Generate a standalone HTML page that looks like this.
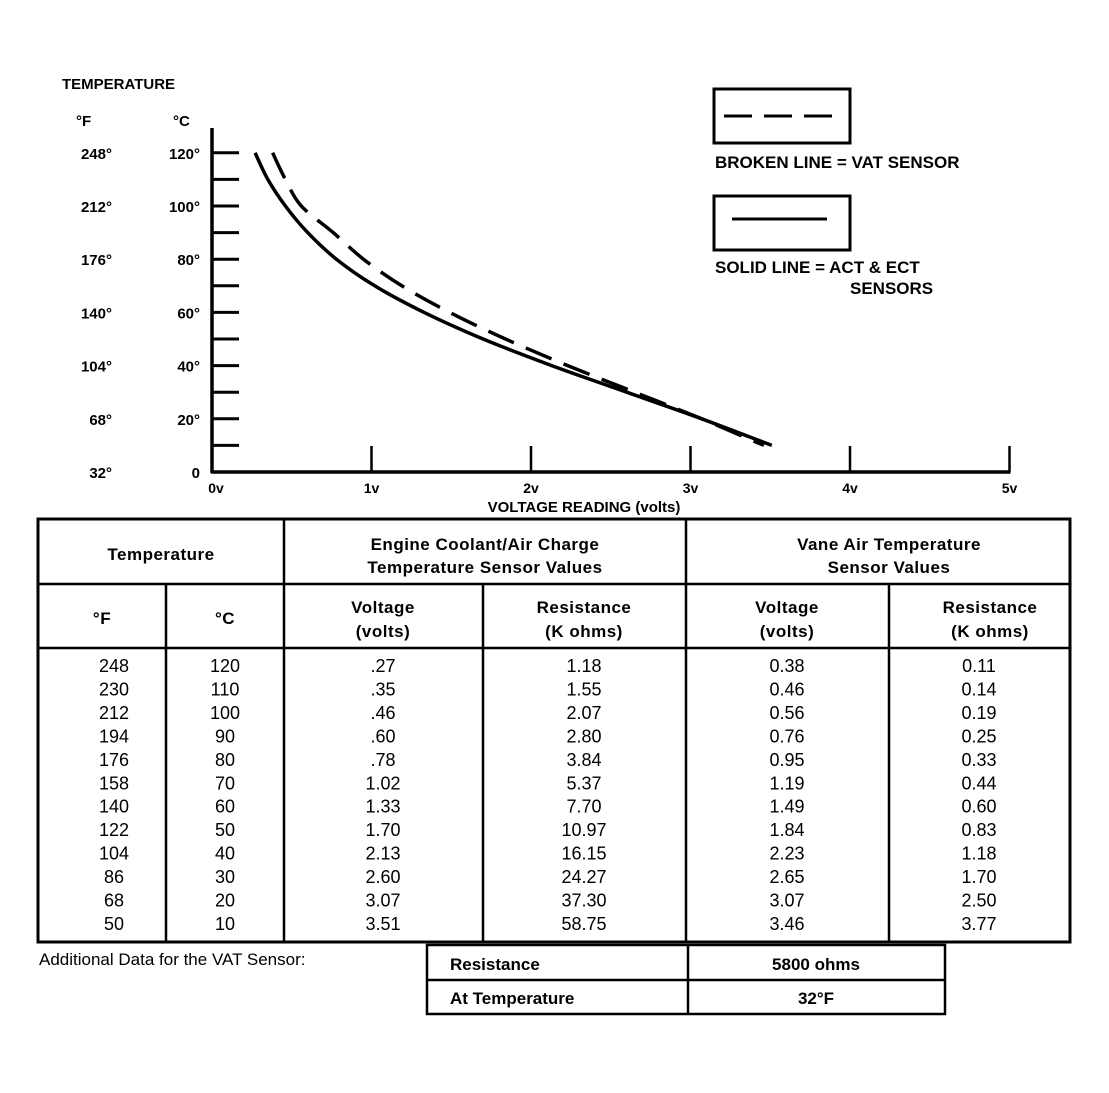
<!DOCTYPE html>
<html><head><meta charset="utf-8"><style>
body{margin:0;background:#fff;}
svg{display:block;font-family:"Liberation Sans",sans-serif;}
.b{font-weight:bold}
</style></head><body>
<svg id="s" width="1109" height="1093" viewBox="0 0 1109 1093">
<g id="chart"></g>
<g id="legend">
<rect x="714" y="89" width="136" height="54" fill="none" stroke="#000" stroke-width="3"/>
<line x1="724" y1="116" x2="840" y2="116" stroke="#000" stroke-width="3" stroke-dasharray="28,12"/>
<text x="715" y="168" font-size="17" class="b">BROKEN LINE  =  VAT SENSOR</text>
<rect x="714" y="196" width="136" height="54" fill="none" stroke="#000" stroke-width="3"/>
<line x1="732" y1="219" x2="827" y2="219" stroke="#000" stroke-width="3"/>
<text x="715" y="273" font-size="17" class="b">SOLID LINE  =  ACT &amp; ECT</text>
<text x="850" y="294" font-size="17" class="b">SENSORS</text>
</g>
<g id="table"></g>
<g>
<text x="39" y="965" font-size="17">Additional Data for the VAT Sensor:</text>
<rect x="427" y="945" width="518" height="69" fill="none" stroke="#000" stroke-width="2.5"/>
<line x1="427" y1="980" x2="945" y2="980" stroke="#000" stroke-width="2.5"/>
<line x1="688" y1="945" x2="688" y2="1014" stroke="#000" stroke-width="2.5"/>
<text x="450" y="970" font-size="17" class="b">Resistance</text>
<text x="816" y="970" font-size="17" class="b" text-anchor="middle">5800 ohms</text>
<text x="450" y="1004" font-size="17" class="b">At Temperature</text>
<text x="816" y="1004" font-size="17" class="b" text-anchor="middle">32°F</text>
</g>
</svg>
<script>
const tempF=[248,230,212,194,176,158,140,122,104,86,68,50];
const tempC=[120,110,100,90,80,70,60,50,40,30,20,10];
const ectVolts=[0.27,0.35,0.46,0.60,0.78,1.02,1.33,1.70,2.13,2.60,3.07,3.51];
const ectVoltText=[".27",".35",".46",".60",".78","1.02","1.33","1.70","2.13","2.60","3.07","3.51"];
const ectRes=["1.18","1.55","2.07","2.80","3.84","5.37","7.70","10.97","16.15","24.27","37.30","58.75"];
const vatVolts=[0.38,0.46,0.56,0.76,0.95,1.19,1.49,1.84,2.23,2.65,3.07,3.46];
const vatRes=["0.11","0.14","0.19","0.25","0.33","0.44","0.60","0.83","1.18","1.70","2.50","3.77"];
const yTicksF=["248°","212°","176°","140°","104°","68°","32°"];
const yTicksC=["120°","100°","80°","60°","40°","20°","0"];
const xTicks=["0v","1v","2v","3v","4v","5v"];
const NS="http://www.w3.org/2000/svg";
function X(v){return 212+v*159.5;}
function Y(c){return 472-c*2.66;}
function mk(p,tag,a,txt){const e=document.createElementNS(NS,tag);for(const k in a)e.setAttribute(k,a[k]);if(txt!==undefined)e.textContent=txt;p.appendChild(e);return e;}
const ch=document.getElementById('chart');
let t;
t=mk(ch,'text',{x:62,y:89,'font-size':15,'font-weight':'bold'},'TEMPERATURE');


t=mk(ch,'text',{x:76,y:126,'font-size':15,'font-weight':'bold'},'°F');


t=mk(ch,'text',{x:173,y:126,'font-size':15,'font-weight':'bold'},'°C');


let a=mk(ch,'line',{x1:X(0),y1:128,x2:X(0),y2:Y(0)+1,stroke:'#000','stroke-width':3.5});


a=mk(ch,'line',{x1:X(0)-1,y1:Y(0),x2:X(5)+1,y2:Y(0),stroke:'#000','stroke-width':3.5});


for(let c=10;c<=120;c+=10){const l=mk(ch,'line',{x1:X(0),y1:Y(c),x2:X(0)+27,y2:Y(c),stroke:'#000','stroke-width':3});

}
yTicksC.forEach((s,i)=>{const c=120-i*20;
const e=mk(ch,'text',{x:200,y:Y(c)+6,'font-size':15,'font-weight':'bold','text-anchor':'end'},s);


const f=mk(ch,'text',{x:112,y:Y(c)+6,'font-size':15,'font-weight':'bold','text-anchor':'end'},yTicksF[i]);

});
xTicks.forEach((s,i)=>{if(i>0){const l=mk(ch,'line',{x1:X(i),y1:Y(0)-26,x2:X(i),y2:Y(0),stroke:'#000','stroke-width':2.5});

}
const e=mk(ch,'text',{x:X(i)+(i==0?4:0),y:Y(0)+21,'font-size':14,'font-weight':'bold','text-anchor':'middle'},s);

});
t=mk(ch,'text',{x:584,y:512,'font-size':15,'font-weight':'bold','text-anchor':'middle'},'VOLTAGE READING (volts)');


function pathOf(vs){
  const P=vs.map((v,i)=>[X(v),Y(tempC[i])]);
  let d='M'+P[0][0].toFixed(1)+' '+P[0][1].toFixed(1);
  for(let i=0;i<P.length-1;i++){
    const p0=P[Math.max(i-1,0)],p1=P[i],p2=P[i+1],p3=P[Math.min(i+2,P.length-1)];
    const c1=[p1[0]+(p2[0]-p0[0])/6,p1[1]+(p2[1]-p0[1])/6];
    const c2=[p2[0]-(p3[0]-p1[0])/6,p2[1]-(p3[1]-p1[1])/6];
    d+=' C'+c1.map(n=>n.toFixed(1)).join(' ')+' '+c2.map(n=>n.toFixed(1)).join(' ')+' '+p2.map(n=>n.toFixed(1)).join(' ');
  }
  return d;
}
let p=mk(ch,'path',{d:pathOf(ectVolts),fill:'none',stroke:'#000','stroke-width':3.5,'stroke-linejoin':'round'});


p=mk(ch,'path',{d:pathOf(vatVolts),fill:'none',stroke:'#000','stroke-width':3.5,'stroke-dasharray':'28,13'});


const tb=document.getElementById('table');
const L={stroke:'#000','stroke-width':2.5};
mk(tb,'rect',{x:38,y:519,width:1032,height:423,fill:'none',stroke:'#000','stroke-width':3});
mk(tb,'line',Object.assign({x1:38,y1:584,x2:1070,y2:584},L));
mk(tb,'line',Object.assign({x1:38,y1:648,x2:1070,y2:648},L));
[284,686].forEach(x=>mk(tb,'line',Object.assign({x1:x,y1:519,x2:x,y2:942},L)));
[166,483,889].forEach(x=>mk(tb,'line',Object.assign({x1:x,y1:584,x2:x,y2:942},L)));
const hd=[[161,560,'Temperature'],[485,550,'Engine Coolant/Air Charge'],[485,573,'Temperature Sensor Values'],[889,550,'Vane Air Temperature'],[889,573,'Sensor Values'],
[102,624,'°F'],[225,624,'°C'],[383,613,'Voltage'],[383,637,'(volts)'],[584,613,'Resistance'],[584,637,'(K ohms)'],[787,613,'Voltage'],[787,637,'(volts)'],[990,613,'Resistance'],[990,637,'(K ohms)']];
hd.forEach(h=>{const e=mk(tb,'text',{x:h[0],y:h[1],'font-size':17,'font-weight':'bold','text-anchor':'middle','letter-spacing':'0.5'},h[2]);

});
const cols=[[114,tempF],[225,tempC],[383,ectVoltText],[584,ectRes],[787,vatVolts.map(v=>v.toFixed(2))],[979,vatRes]];
tempC.forEach((c,i)=>{cols.forEach(cl=>{const e=mk(tb,'text',{x:cl[0],y:672+i*23.45,'font-size':18,'text-anchor':'middle'},cl[1][i]);

});});
</script>
</body></html>
